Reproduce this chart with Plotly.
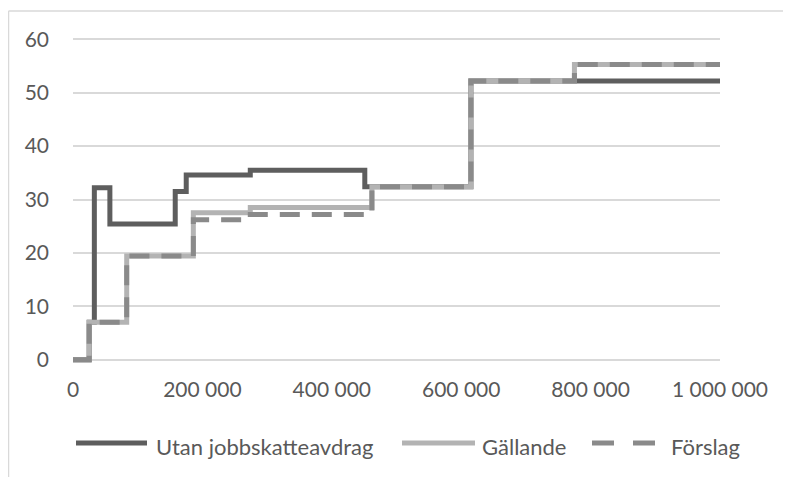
import plotly.graph_objects as go

# ---- data ----
utan_x = [0, 25000, 33000, 57000, 158000, 175000, 274000, 451000, 615000, 1000000]
utan_y = [0, 7, 32.2, 25.4, 31.5, 34.6, 35.5, 32.4, 52.2, 52.2]

gall_x = [0, 25000, 83000, 186000, 274000, 462000, 615000, 775000, 1000000]
gall_y = [0, 7, 19.4, 27.5, 28.5, 32.4, 52.2, 55.3, 55.3]

forsl_x = [0, 25000, 83000, 186000, 274000, 462000, 615000, 775000, 1000000]
forsl_y = [0, 7, 19.4, 26.2, 27.2, 32.4, 52.2, 55.3, 55.3]

series_names = ["Utan jobbskatteavdrag", "Gällande", "Förslag"]
x_tickvals = [0, 200000, 400000, 600000, 800000, 1000000]
x_ticktext = ["0", "200 000", "400 000", "600 000", "800 000", "1 000 000"]
y_tickvals = [0, 10, 20, 30, 40, 50, 60]

# ---- style ----
C_DARK = "#5e5e5e"
C_LIGHT = "#b3b3b3"
C_MID = "#8a8a8a"
TXT = "#595959"
FONT = "Lato, 'Open Sans', sans-serif"
LW = 5

fig = go.Figure()
fig.add_trace(go.Scatter(x=utan_x, y=utan_y, mode="lines", line_shape="hv",
                         name=series_names[0], line=dict(color=C_DARK, width=LW)))
fig.add_trace(go.Scatter(x=gall_x, y=gall_y, mode="lines", line_shape="hv",
                         name=series_names[1], line=dict(color=C_LIGHT, width=LW)))
fig.add_trace(go.Scatter(x=forsl_x, y=forsl_y, mode="lines", line_shape="hv",
                         name=series_names[2], line=dict(color=C_MID, width=LW, dash="20px,12px")))

# manual legend (paper coords; plot area on screen 73..720 x 34..365 px)
def px2x(px):
    return (px - 73) / 647.0

def py2y(py):
    return (365 - py) / 331.0

shapes = []
annots = []
ly = py2y(443)
ty = py2y(446)
legend_items = [
    (76, 147, 154, C_DARK, "solid", series_names[0]),
    (402, 475, 480, C_LIGHT, "solid", series_names[1]),
    (592, 657, 669, C_MID, "22px,19px", series_names[2]),
]
for x0, x1, tx, col, dash, label in legend_items:
    shapes.append(dict(type="line", xref="paper", yref="paper", x0=px2x(x0), x1=px2x(x1),
                       y0=ly, y1=ly, line=dict(color=col, width=LW, dash=dash)))
    annots.append(dict(xref="paper", yref="paper", x=px2x(tx), y=ty, xanchor="left",
                       yanchor="middle", text=label, showarrow=False,
                       font=dict(family=FONT, size=22, color=TXT)))

# chart border (left and top edges visible)
bx = px2x(8.5)
by = py2y(11)
shapes.append(dict(type="line", xref="paper", yref="paper", x0=bx, x1=bx, y0=-1, y1=by,
                   line=dict(color="#d9d9d9", width=1.5)))
shapes.append(dict(type="line", xref="paper", yref="paper", x0=bx, x1=1.5, y0=by, y1=by,
                   line=dict(color="#d9d9d9", width=1.5)))

fig.update_layout(
    width=791, height=477,
    margin=dict(l=65, r=79, t=26, b=120),
    paper_bgcolor="white", plot_bgcolor="white",
    showlegend=False,
    font=dict(family=FONT, size=21, color=TXT),
    shapes=shapes, annotations=annots,
)
fig.update_xaxes(range=[0, 1000000], tickvals=x_tickvals, ticktext=x_ticktext,
                 showgrid=False, zeroline=False, showline=False, ticks="",
                 ticklabelstandoff=10, tickfont=dict(family=FONT, size=21, color=TXT))
fig.update_yaxes(range=[-1, 61], tickvals=y_tickvals, showgrid=True, gridcolor="#d9d9d9",
                 gridwidth=1.5, zeroline=False, showline=False, ticks="",
                 ticklabelstandoff=23, tickfont=dict(family=FONT, size=21, color=TXT))

fig.write_html("out.html")
